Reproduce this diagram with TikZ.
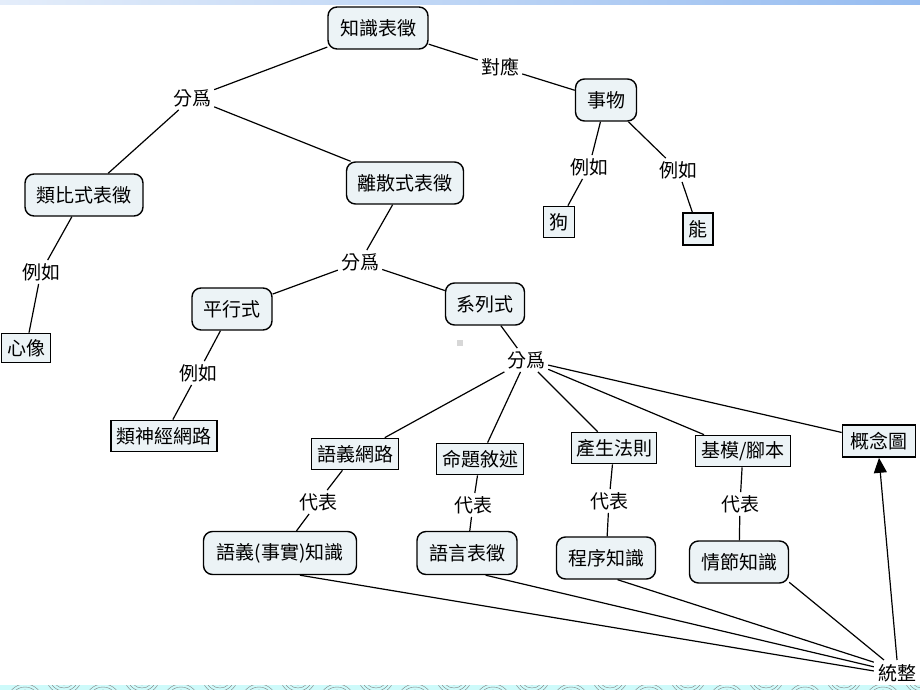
\documentclass[tikz,border=0pt]{standalone}
\usepackage{fontspec}
\newfontfamily\cjk{Noto Sans CJK TC}
\usetikzlibrary{arrows.meta}
\definecolor{boxfill}{RGB}{236,243,246}
\definecolor{bandL}{RGB}{228,237,250}
\definecolor{bandR}{RGB}{150,188,240}
\definecolor{bandcyan}{RGB}{205,250,250}
\definecolor{dotgray}{RGB}{215,215,215}
\tikzset{
  txt/.style={font=\cjk\fontsize{19}{21}\selectfont},
  rbox/.style={txt, draw, line width=1.4pt, rounded corners=9pt, fill=boxfill, minimum height=42pt, inner sep=2pt},
  sbox/.style={txt, draw, line width=1.7pt, fill=boxfill, minimum height=31pt, inner sep=2pt},
  lbl/.style={txt, inner sep=3pt},
  conn/.style={line width=1.2pt},
}
\begin{document}
\begin{tikzpicture}[x=1pt,y=-1pt]
\useasboundingbox (0,0) rectangle (920,690);
% top band
\shade[left color=bandL, right color=bandR] (0,0) rectangle (920,5);
% bottom band
\begin{scope}
  \clip (0,685) rectangle (920,690);
  \fill[bandcyan] (0,685) rectangle (920,690);
  \foreach \i in {0,...,12} {
    \foreach \r in {9,12,15,18} {
      \draw[gray, line width=0.4pt] (\i*78+25,702) circle (\r);
      \draw[gray, line width=0.4pt] (\i*78+64,676) circle (\r);
    }
  }
\end{scope}
% small gray square
\fill[dotgray] (457,340) rectangle (463,346);

% nodes
\node[rbox, minimum width=100pt] (zs) at (378,28) {知識表徵};
\node[lbl] (dy) at (500,67) {對應};
\node[rbox, minimum width=61pt] (sw) at (606,100) {事物};
\node[lbl] (fw1) at (192,98) {分爲};
\node[rbox, minimum width=118pt] (lb) at (84,195) {類比式表徵};
\node[rbox, minimum width=117pt] (lsb) at (405,183) {離散式表徵};
\node[lbl] (lr1) at (41,272) {例如};
\node[sbox, minimum width=49pt, minimum height=29pt] (xx) at (26,348) {心像};
\node[lbl] (fw2) at (360,262) {分爲};
\node[rbox, minimum width=80pt] (px) at (232,309) {平行式};
\node[rbox, minimum width=79pt] (xl) at (485,304) {系列式};
\node[lbl] (lr2) at (198,373) {例如};
\node[sbox, minimum width=106pt] (sjw) at (164,436) {類神經網路};
\node[lbl] (fw3) at (526,360) {分爲};
\node[lbl] (lr3) at (589,167) {例如};
\node[sbox, minimum width=31pt] (gou) at (559,222) {狗};
\node[lbl] (lr4) at (678,170) {例如};
\node[sbox, minimum width=30pt, minimum height=32pt] (neng) at (698,229) {能};

\node[sbox, minimum width=87pt] (yywl) at (355,454) {語義網路};
\node[sbox, minimum width=87pt] (mtxs) at (480,459) {命題敘述};
\node[sbox, minimum width=85pt] (csfz) at (614,448) {產生法則};
\node[sbox, minimum width=95pt] (jmjb) at (743,451) {基模/腳本};
\node[sbox, minimum width=73pt, minimum height=32pt] (gnt) at (879,441) {概念圖};

\node[lbl] (db1) at (318,502) {代表};
\node[lbl] (db2) at (473,505) {代表};
\node[lbl] (db3) at (609,501) {代表};
\node[lbl] (db4) at (740,504) {代表};

\node[rbox, minimum width=153pt, minimum height=43pt] (yysz) at (280,553) {語義(事實)知識};
\node[rbox, minimum width=100pt, minimum height=43pt] (yybz) at (467,553) {語言表徵};
\node[rbox, minimum width=99pt] (cxzs) at (606,558) {程序知識};
\node[rbox, minimum width=99pt] (qjzs) at (739,562) {情節知識};

\node[lbl, inner sep=4pt] (tz) at (897,673) {統整};

% connectors
\draw[conn] (zs) -- (fw1);
\draw[conn] (fw1) -- (lb);
\draw[conn] (fw1) -- (lsb);
\draw[conn] (zs) -- (dy);
\draw[conn] (dy) -- (sw);
\draw[conn] (sw) -- (lr3);
\draw[conn] (lr3) -- (gou);
\draw[conn] (sw) -- (lr4);
\draw[conn] (lr4) -- (neng);
\draw[conn] (lb) -- (lr1);
\draw[conn] (lr1) -- (xx);
\draw[conn] (lsb) -- (fw2);
\draw[conn] (fw2) -- (px);
\draw[conn] (fw2) -- (xl);
\draw[conn] (px) -- (lr2);
\draw[conn] (lr2) -- (sjw);
\draw[conn] (xl) -- (fw3);
\draw[conn] (fw3) -- (yywl);
\draw[conn] (fw3) -- (mtxs);
\draw[conn] (fw3) -- (csfz);
\draw[conn] (fw3) -- (jmjb);
\draw[conn] (fw3) -- (gnt);
\draw[conn] (yywl) -- (db1);
\draw[conn] (db1) -- (yysz);
\draw[conn] (mtxs) -- (db2);
\draw[conn] (db2) -- (yybz);
\draw[conn] (csfz) -- (db3);
\draw[conn] (db3) -- (cxzs);
\draw[conn] (jmjb) -- (db4);
\draw[conn] (db4) -- (qjzs);

\draw[conn] (yysz.-48) -- (tz.175);
\draw[conn] (yybz.-50) -- (tz.165);
\draw[conn] (cxzs.-62) -- (tz.155);
\draw[conn] (qjzs.-22) -- (tz.135);
\draw[conn, -{Triangle[length=15pt,width=13pt]}] (tz.north) -- (gnt.south);
\end{tikzpicture}
\end{document}
